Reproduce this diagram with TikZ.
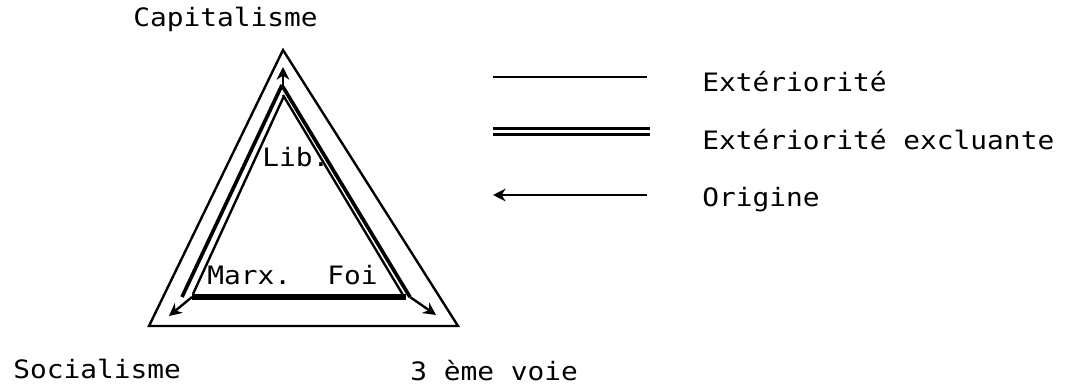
\documentclass[tikz,border=0pt]{standalone}
\usepackage{fontspec}
\setmonofont{DejaVu Sans Mono}[FakeStretch=1.1]
\usetikzlibrary{arrows.meta, positioning}

\tikzset{
	lbl/.style={anchor=base west, inner sep=0pt, font=\ttfamily\fontsize{18}{20}\selectfont},
	ext/.style={line width=1.7pt},
	extthick/.style={line width=2.6pt},
	excl/.style={line width=4.6pt},
	origin/.style={line width=1.7pt, -{Stealth[length=9pt,width=9pt]}},
}

\begin{document}
\begin{tikzpicture}[x=0.025cm, y=-0.025cm]
	\useasboundingbox (0,0) rectangle (1079,386);
	
	% outer triangle
	\coordinate (cap) at (283,50);
	\coordinate (soc) at (149,326);
	\coordinate (voie) at (458,326);
	\draw[ext, line join=miter] (cap) -- (soc) -- (voie) -- cycle;
	
	% inner triangle
	\coordinate (libL) at (284,96);
	\coordinate (marxL) at (193,294);
	\coordinate (libO) at (282,85);
	\coordinate (marxO) at (182,297);
	\coordinate (libR1) at (283,95);
	\coordinate (foiR1) at (403,295);
	\coordinate (libR2) at (283,87);
	\coordinate (foiR2) at (410,297);
	\coordinate (marx) at (192,297);
	\coordinate (foi) at (406,297);
	
	\draw[ext] (libL) -- (marxL);
	\draw[extthick] (libO) -- (marxO);
	\draw[ext] (libR1) -- (foiR1);
	\draw[extthick] (libR2) -- (foiR2);
	\draw[excl] (marx) -- (foi);
	
	% origins
	\coordinate (libtop) at (283,89);
	\coordinate (captip) at (283,67);
	\coordinate (soctip) at (169,316);
	\coordinate (voietip) at (436,315);
	\draw[origin] (libtop) -- (captip);
	\draw[origin] (marx) -- (soctip);
	\draw[origin] (foiR2) -- (voietip);
	
	\node[lbl] (capitalisme) at (133,27) {Capitalisme};
	\node[lbl] (socialisme) at (13,378) {Socialisme};
	\node[lbl] (troisieme) at (410,380) {3 ème voie};
	\node[lbl] (lib) at (262,167) {Lib.};
	\node[lbl] (marxnode) at (207,285) {Marx.};
	\node[lbl] (foinode) at (327,285) {Foi};
	
	% legend
	\coordinate (l1a) at (493,77);
	\coordinate (l1b) at (647,77);
	\coordinate (l2a) at (493,128.5);
	\coordinate (l2b) at (650,128.5);
	\coordinate (l2c) at (493,134.5);
	\coordinate (l2d) at (650,134.5);
	\coordinate (l3a) at (647,195);
	\coordinate (l3b) at (493,195);
	\draw[ext] (l1a) -- (l1b);
	\draw[ext] (l2a) -- (l2b);
	\draw[extthick] (l2c) -- (l2d);
	\draw[origin] (l3a) -- (l3b);
	
	\node[lbl] (exterieur) at (702,92) {Extériorité};
	\node[lbl] (excluante) at (702,150) {Extériorité excluante};
	\node[lbl] (origine) at (702,207) {Origine};
\end{tikzpicture}
\end{document}
